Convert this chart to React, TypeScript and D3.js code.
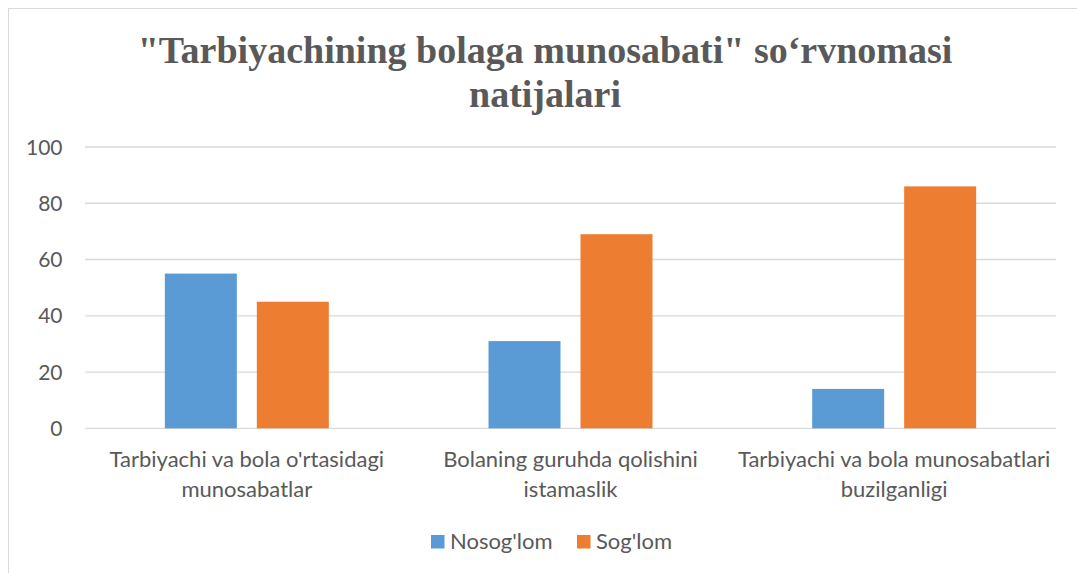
import React from 'react';
import * as d3 from 'd3';

const categories = [
  ["Tarbiyachi va bola o'rtasidagi", 'munosabatlar'],
  ['Bolaning guruhda qolishini', 'istamaslik'],
  ['Tarbiyachi va bola munosabatlari', 'buzilganligi'],
];
const seriesNames = ["Nosog'lom", "Sog'lom"];
const nosoglom = [55, 31, 14];
const soglom = [45, 69, 86];
const yTicks = [0, 20, 40, 60, 80, 100];

const colors = ['#5B9BD5', '#ED7D31'];
const textColor = '#595959';
const gridColor = '#d9d9d9';
const font = 'Lato';
const titleFont = 'Liberation Serif';

const W = 1077;
const H = 573;
const margin = { left: 85, right: 21, top: 147, bottom: 145 };

export default function App() {
  const values = [nosoglom, soglom];
  const keys = categories.map((c) => c.join(' '));

  const x0 = d3
    .scaleBand()
    .domain(keys)
    .range([margin.left, W - margin.right]);
  const x1 = d3
    .scaleBand()
    .domain(seriesNames)
    .range([0, x0.bandwidth()])
    .paddingInner(0.2174)
    .paddingOuter(0.868);
  const y = d3
    .scaleLinear()
    .domain([0, 100])
    .range([H - margin.bottom + 0.3, margin.top]);

  return (
    <svg
      width={W}
      height={H}
      style={{ position: 'absolute', left: 0, top: 0, background: '#fff' }}
    >
      {/* chart frame */}
      <line x1={8.5} x2={8.5} y1={8} y2={H} stroke={gridColor} />
      <line x1={8} x2={W} y1={8.5} y2={8.5} stroke={gridColor} />

      {/* title */}
      <text
        textAnchor="middle"
        fill={textColor}
        fontFamily={titleFont}
        fontWeight="bold"
        fontSize={38}
      >
        <tspan x={545} y={63}>
          "Tarbiyachining bolaga munosabati" so‘rvnomasi
        </tspan>
        <tspan x={545} y={107}>
          natijalari
        </tspan>
      </text>

      {/* gridlines and y labels */}
      {yTicks.map((t) => (
        <g key={t}>
          <line
            x1={margin.left}
            x2={W - margin.right}
            y1={y(t)}
            y2={y(t)}
            stroke={gridColor}
            strokeWidth={1.3}
          />
          <text
            x={62.5}
            y={y(t)}
            dy="0.36em"
            textAnchor="end"
            fill={textColor}
            fontFamily={font}
            fontSize={21}
          >
            {t}
          </text>
        </g>
      ))}

      {/* bars */}
      {keys.map((k, i) => (
        <g key={k} transform={`translate(${x0(k)},0)`}>
          {seriesNames.map((s, j) => (
            <rect
              key={s}
              x={x1(s)}
              y={y(values[j][i])}
              width={x1.bandwidth()}
              height={y(0) - y(values[j][i])}
              fill={colors[j]}
            />
          ))}
        </g>
      ))}

      {/* category labels */}
      {categories.map((lines, i) => (
        <text
          key={i}
          textAnchor="middle"
          fill={textColor}
          fontFamily={font}
          fontSize={22}
        >
          {lines.map((l, li) => (
            <tspan
              key={li}
              x={(x0(keys[i]) as number) + x0.bandwidth() / 2}
              y={467 + li * 29.5}
            >
              {l}
            </tspan>
          ))}
        </text>
      ))}

      {/* legend */}
      {seriesNames.map((s, j) => {
        const lx = [431, 577][j];
        return (
          <g key={s}>
            <rect x={lx} y={535} width={13.5} height={13.5} fill={colors[j]} />
            <text
              x={lx + 19}
              y={549}
              fill={textColor}
              fontFamily={font}
              fontSize={22}
            >
              {s}
            </text>
          </g>
        );
      })}
    </svg>
  );
}
